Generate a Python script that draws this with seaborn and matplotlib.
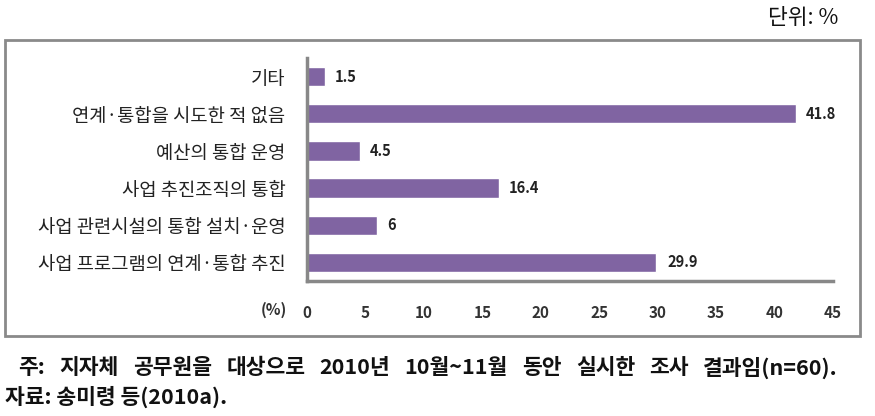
import matplotlib
matplotlib.use("Agg")
import matplotlib.pyplot as plt
import seaborn as sns
import pandas as pd
from matplotlib.patches import Rectangle

categories = ["기타", "연계·통합을 시도한 적 없음", "예산의 통합 운영", "사업 추진조직의 통합",
              "사업 관련시설의 통합 설치·운영", "사업 프로그램의 연계·통합 추진"]
values = [1.5, 41.8, 4.5, 16.4, 6, 29.9]
value_labels = ["1.5", "41.8", "4.5", "16.4", "6", "29.9"]
xticks = [0, 5, 10, 15, 20, 25, 30, 35, 40, 45]
note_text = "주: 지자체 공무원을 대상으로 2010년 10월~11월 동안 실시한 조사 결과임(n=60)."
source_text = "자료: 송미령 등(2010a)."

sns.set_theme(style="white")
plt.rcParams['font.family'] = ['Noto Sans CJK KR', 'DejaVu Sans']

df = pd.DataFrame({"cat": categories, "val": values})

fig = plt.figure(figsize=(8.75, 4.16), dpi=100)
W, H = 875, 416
ax = fig.add_axes([307 / W, 1 - 281 / H, (833 - 307) / W, (281 - 58) / H])

sns.barplot(data=df, x="val", y="cat", color="#8064A2", saturation=1, width=0.52, ax=ax)

ax.set_xlim(0, 45)
ax.set_ylim(5.5, -0.5)
ax.set_xticks(xticks)
ax.set_xticklabels([str(t) for t in xticks], fontsize=11, fontweight="bold", color="#333333")
ax.set_xlabel("")
ax.set_ylabel("")
ax.tick_params(axis="x", length=0, pad=17)
ax.tick_params(axis="y", length=0, pad=15.5, labelsize=13.5, labelcolor="#222222")
for s in ["top", "right"]:
    ax.spines[s].set_visible(False)
for s in ["left", "bottom"]:
    ax.spines[s].set_color("#888888")
    ax.spines[s].set_linewidth(2.5)

for i, (v, lab) in enumerate(zip(values, value_labels)):
    ax.text(v + 0.9, i, lab, va="center", ha="left", fontsize=10.5, fontweight="bold", color="#222222")

fig.text(274 / W, 1 - 310 / H, "(%)", ha="center", va="center", fontsize=11, fontweight="bold", color="#333333")

# frame around chart
fig.patches.append(Rectangle((5 / W, 1 - 336 / H), (860 - 5) / W, (336 - 40) / H,
                             transform=fig.transFigure, fill=False, edgecolor="#8a8a8a", linewidth=2))

fig.text(838 / W, 1 - 18 / H, "단위: %", ha="right", va="center", fontsize=15.5, color="#111111")

# justified note line from x=18 to x=838
renderer = fig.canvas.get_renderer()
words = note_text.split(" ")
texts = []
for w in words:
    t = fig.text(0, 1 - 368 / H, w, ha="left", va="center", fontsize=15.5, fontweight="bold", color="#111111")
    texts.append(t)
widths = [t.get_window_extent(renderer).width for t in texts]
x0, x1 = 18, 838
gap = (x1 - x0 - sum(widths)) / (len(words) - 1)
x = x0
for t, wd in zip(texts, widths):
    t.set_x(x / W)
    x += wd + gap

fig.text(5 / W, 1 - 397 / H, source_text, ha="left", va="center",
         fontsize=15.5, fontweight="bold", color="#111111")

fig.savefig("out.png", dpi=100)
